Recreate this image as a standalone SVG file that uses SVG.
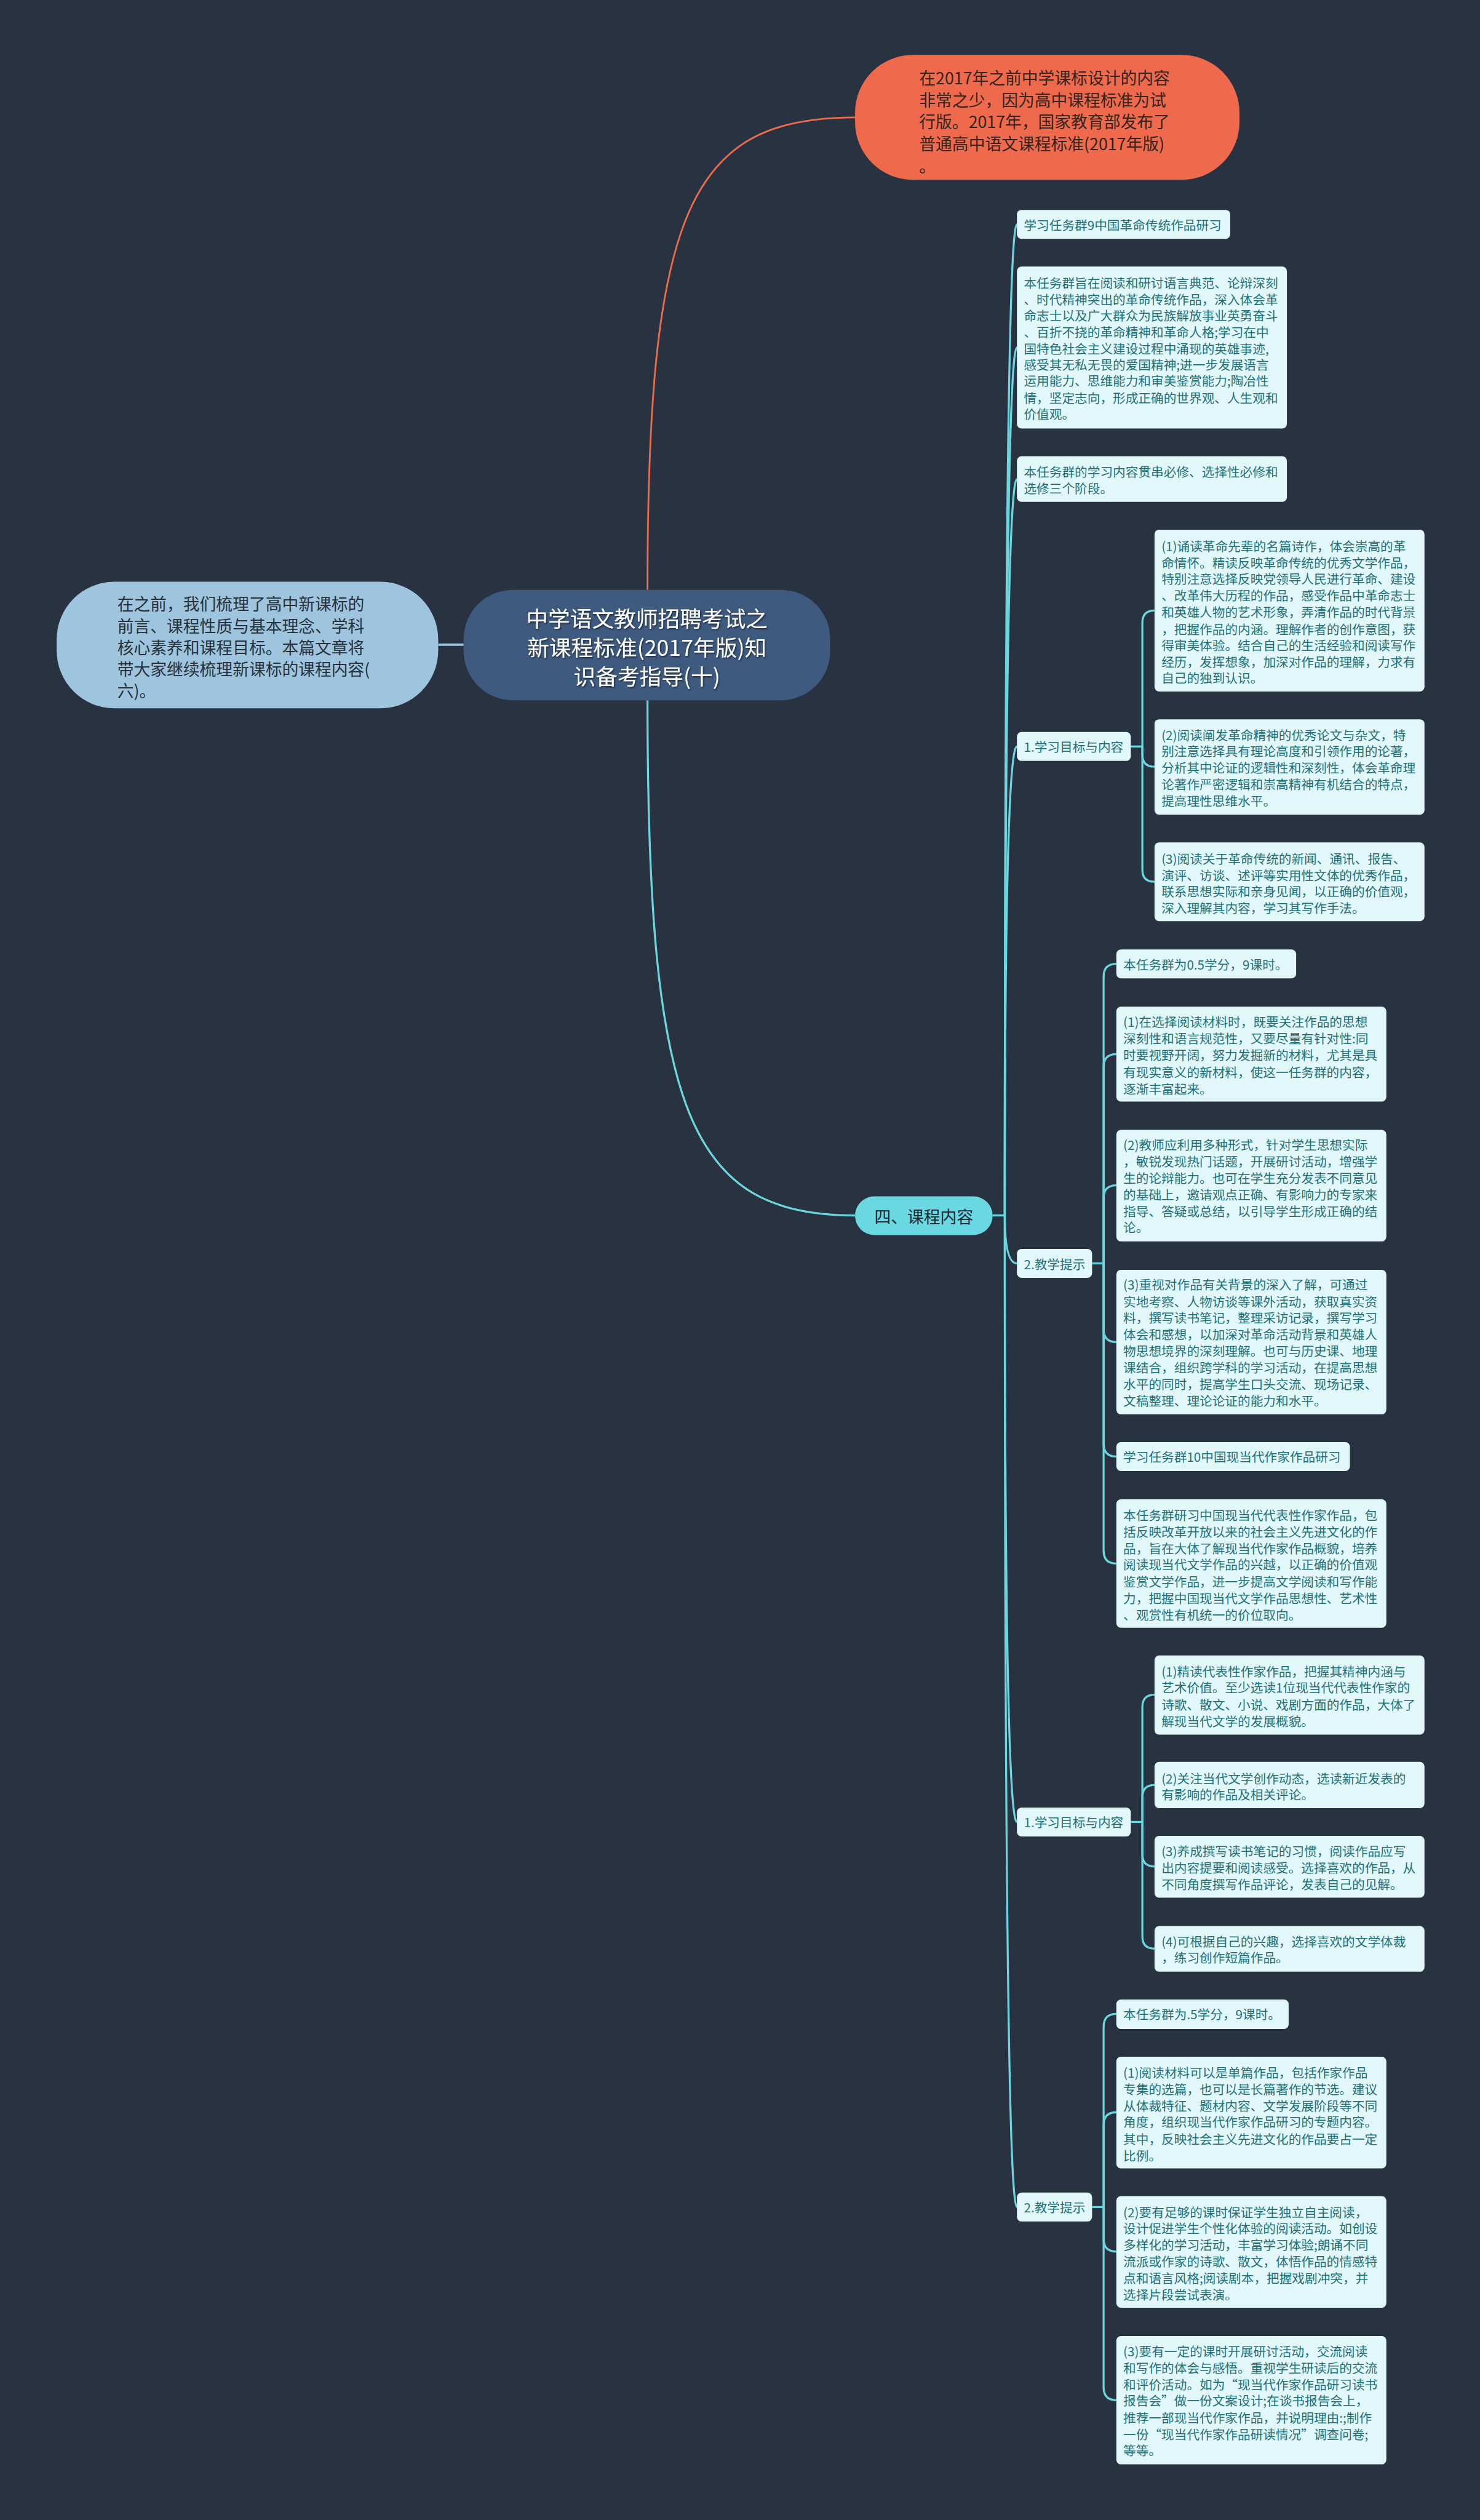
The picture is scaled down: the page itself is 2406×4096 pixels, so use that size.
<svg xmlns="http://www.w3.org/2000/svg" width="2406" height="4096" viewBox="0 0 2406 4096">
<style>
text{font-family:"Noto Sans CJK SC","Noto Sans",sans-serif;dominant-baseline:central}
.leaf{fill:#e1f7f9}
.lt{font-size:22px;fill:#1f7177}
.c{fill:none;stroke:#6cd6df;stroke-width:3.5}
</style>
<defs>
<filter id="sh" x="-10%" y="-10%" width="120%" height="130%"><feDropShadow dx="1.5" dy="2" stdDeviation="1" flood-color="#1a2230" flood-opacity="0.8"/></filter>
</defs>
<rect width="2406" height="4096" fill="#293240"/>
<g transform="scale(0.93984)">
<g id="connectors">
<path d="M1120 1020 C1120 366 1192 203 1479 203" fill="none" stroke="#ec6c4d" stroke-width="3"/>
<path d="M758 1115 H802" fill="none" stroke="#9ec6de" stroke-width="4"/>
<path class="c" d="M1120 1211 C1120 1924 1192 2102 1479 2102"/>
<path class="c" d="M1717 2102 H1738"/>
<path class="c" d="M1738 2102 Q1738 388 1759 388"/>
<path class="c" d="M1738 2102 Q1738 601 1759 601"/>
<path class="c" d="M1738 2102 Q1738 829 1759 829"/>
<path class="c" d="M1738 2102 Q1738 1291 1759 1291"/>
<path class="c" d="M1738 2102 Q1738 2185 1759 2185"/>
<path class="c" d="M1738 2102 Q1738 3151 1759 3151"/>
<path class="c" d="M1738 2102 Q1738 3817 1759 3817"/>
<path class="c" d="M1956 1291 H1976"/>
<path class="c" d="M1976 1291 V1077 Q1976 1056 1997 1056"/>
<path class="c" d="M1976 1291 V1305 Q1976 1326 1997 1326"/>
<path class="c" d="M1976 1291 V1504 Q1976 1525 1997 1525"/>
<path class="c" d="M1889 2185 H1909"/>
<path class="c" d="M1909 2185 V1689 Q1909 1667 1931 1667"/>
<path class="c" d="M1909 2185 V1845 Q1909 1823 1931 1823"/>
<path class="c" d="M1909 2185 V2072 Q1909 2050 1931 2050"/>
<path class="c" d="M1909 2185 V2299 Q1909 2321 1931 2321"/>
<path class="c" d="M1909 2185 V2497 Q1909 2519 1931 2519"/>
<path class="c" d="M1909 2185 V2682 Q1909 2704 1931 2704"/>
<path class="c" d="M1956 3151 H1976"/>
<path class="c" d="M1976 3151 V2952 Q1976 2931 1997 2931"/>
<path class="c" d="M1976 3151 V3108 Q1976 3087 1997 3087"/>
<path class="c" d="M1976 3151 V3207 Q1976 3228 1997 3228"/>
<path class="c" d="M1976 3151 V3349 Q1976 3370 1997 3370"/>
<path class="c" d="M1889 3817 H1909"/>
<path class="c" d="M1909 3817 V3505 Q1909 3483 1931 3483"/>
<path class="c" d="M1909 3817 V3675 Q1909 3653 1931 3653"/>
<path class="c" d="M1909 3817 V3872 Q1909 3894 1931 3894"/>
<path class="c" d="M1909 3817 V4129 Q1909 4151 1931 4151"/>
</g>

<g id="n-top">
<rect x="1479" y="95" width="665" height="216" rx="100" fill="#ef6a4c"/>
<text font-size="28.5" fill="#33241c"><tspan x="1590" y="133">在2017年之前中学课标设计的内容</tspan><tspan x="1590" y="171">非常之少，因为高中课程标准为试</tspan><tspan x="1590" y="209">行版。2017年，国家教育部发布了</tspan><tspan x="1590" y="247">普通高中语文课程标准(2017年版)</tspan><tspan x="1590" y="285">。</tspan></text>
</g>

<g id="n-left">
<rect x="98" y="1006" width="660" height="219" rx="100" fill="#9ec5dd"/>
<text font-size="28.5" fill="#27313b"><tspan x="203" y="1043">在之前，我们梳理了高中新课标的</tspan><tspan x="203" y="1081">前言、课程性质与基本理念、学科</tspan><tspan x="203" y="1118">核心素养和课程目标。本篇文章将</tspan><tspan x="203" y="1156">带大家继续梳理新课标的课程内容(</tspan><tspan x="203" y="1193">六)。</tspan></text>
</g>

<g id="n-root">
<rect x="802" y="1020" width="634" height="191" rx="85" fill="#3e5a7f"/>
<text font-size="38" fill="#ffffff" text-anchor="middle" filter="url(#sh)"><tspan x="1119" y="1067">中学语文教师招聘考试之</tspan><tspan x="1119" y="1117">新课程标准(2017年版)知</tspan><tspan x="1119" y="1167">识备考指导(十)</tspan></text>
</g>

<g id="n-course">
<rect x="1479" y="2069" width="238" height="67" rx="33.5" fill="#6ad8e1"/>
<text x="1598" y="2103" font-size="28.5" fill="#1c2630" text-anchor="middle">四、课程内容</text>
</g>

<g id="n-a">
<rect class="leaf" x="1759" y="363" width="369" height="50" rx="8"/>
<text class="lt" x="1771" y="388">学习任务群9中国革命传统作品研习</text>
</g>

<g id="n-b">
<rect class="leaf" x="1759" y="461" width="467" height="280" rx="8"/>
<text class="lt"><tspan x="1771" y="488">本任务群旨在阅读和研讨语言典范、论辩深刻</tspan><tspan x="1771" y="517">、时代精神突出的革命传统作品，深入体会革</tspan><tspan x="1771" y="545">命志士以及广大群众为民族解放事业英勇奋斗</tspan><tspan x="1771" y="573">、百折不挠的革命精神和革命人格;学习在中</tspan><tspan x="1771" y="602">国特色社会主义建设过程中涌现的英雄事迹,</tspan><tspan x="1771" y="630">感受其无私无畏的爱国精神;进一步发展语言</tspan><tspan x="1771" y="658">运用能力、思维能力和审美鉴赏能力;陶冶性</tspan><tspan x="1771" y="687">情，坚定志向，形成正确的世界观、人生观和</tspan><tspan x="1771" y="715">价值观。</tspan></text>
</g>

<g id="n-c">
<rect class="leaf" x="1759" y="789" width="467" height="79" rx="8"/>
<text class="lt"><tspan x="1771" y="815">本任务群的学习内容贯串必修、选择性必修和</tspan><tspan x="1771" y="844">选修三个阶段。</tspan></text>
</g>

<g id="n-d">
<rect class="leaf" x="1759" y="1266" width="197" height="50" rx="8"/>
<text class="lt" x="1771" y="1291">1.学习目标与内容</text>
</g>

<g id="n-d1">
<rect class="leaf" x="1997" y="916" width="467" height="280" rx="8"/>
<text class="lt"><tspan x="2009" y="944">(1)诵读革命先辈的名篇诗作，体会崇高的革</tspan><tspan x="2009" y="972">命情怀。精读反映革命传统的优秀文学作品，</tspan><tspan x="2009" y="1000">特别注意选择反映党领导人民进行革命、建设</tspan><tspan x="2009" y="1029">、改革伟大历程的作品，感受作品中革命志士</tspan><tspan x="2009" y="1058">和英雄人物的艺术形象，弄清作品的时代背景</tspan><tspan x="2009" y="1087">，把握作品的内涵。理解作者的创作意图，获</tspan><tspan x="2009" y="1115">得审美体验。结合自己的生活经验和阅读写作</tspan><tspan x="2009" y="1144">经历，发挥想象，加深对作品的理解，力求有</tspan><tspan x="2009" y="1172">自己的独到认识。</tspan></text>
</g>

<g id="n-d2">
<rect class="leaf" x="1997" y="1244" width="467" height="165" rx="8"/>
<text class="lt"><tspan x="2009" y="1270">(2)阅读阐发革命精神的优秀论文与杂文，特</tspan><tspan x="2009" y="1298">别注意选择具有理论高度和引领作用的论著，</tspan><tspan x="2009" y="1327">分析其中论证的逻辑性和深刻性，体会革命理</tspan><tspan x="2009" y="1356">论著作严密逻辑和崇高精神有机结合的特点，</tspan><tspan x="2009" y="1384">提高理性思维水平。</tspan></text>
</g>

<g id="n-d3">
<rect class="leaf" x="1997" y="1457" width="467" height="136" rx="8"/>
<text class="lt"><tspan x="2009" y="1484">(3)阅读关于革命传统的新闻、通讯、报告、</tspan><tspan x="2009" y="1513">演评、访谈、述评等实用性文体的优秀作品，</tspan><tspan x="2009" y="1541">联系思想实际和亲身见闻，以正确的价值观，</tspan><tspan x="2009" y="1569">深入理解其内容，学习其写作手法。</tspan></text>
</g>

<g id="n-e">
<rect class="leaf" x="1759" y="2160" width="130" height="50" rx="8"/>
<text class="lt" x="1771" y="2185">2.教学提示</text>
</g>

<g id="n-e1">
<rect class="leaf" x="1931" y="1642" width="311" height="50" rx="8"/>
<text class="lt" x="1943" y="1667">本任务群为0.5学分，9课时。</text>
</g>

<g id="n-e2">
<rect class="leaf" x="1931" y="1741" width="467" height="164" rx="8"/>
<text class="lt"><tspan x="1943" y="1766">(1)在选择阅读材料时，既要关注作品的思想</tspan><tspan x="1943" y="1795">深刻性和语言规范性，又要尽量有针对性:同</tspan><tspan x="1943" y="1824">时要视野开阔，努力发掘新的材料，尤其是具</tspan><tspan x="1943" y="1853">有现实意义的新材料，使这一任务群的内容，</tspan><tspan x="1943" y="1882">逐渐丰富起来。</tspan></text>
</g>

<g id="n-e3">
<rect class="leaf" x="1931" y="1954" width="467" height="193" rx="8"/>
<text class="lt"><tspan x="1943" y="1979">(2)教师应利用多种形式，针对学生思想实际</tspan><tspan x="1943" y="2008">，敏锐发现热门话题，开展研讨活动，增强学</tspan><tspan x="1943" y="2037">生的论辩能力。也可在学生充分发表不同意见</tspan><tspan x="1943" y="2065">的基础上，邀请观点正确、有影响力的专家来</tspan><tspan x="1943" y="2094">指导、答疑或总结，以引导学生形成正确的结</tspan><tspan x="1943" y="2122">论。</tspan></text>
</g>

<g id="n-e4">
<rect class="leaf" x="1931" y="2196" width="467" height="250" rx="8"/>
<text class="lt"><tspan x="1943" y="2221">(3)重视对作品有关背景的深入了解，可通过</tspan><tspan x="1943" y="2250">实地考察、人物访谈等课外活动，获取真实资</tspan><tspan x="1943" y="2278">料，撰写读书笔记，整理采访记录，撰写学习</tspan><tspan x="1943" y="2307">体会和感想，以加深对革命活动背景和英雄人</tspan><tspan x="1943" y="2336">物思想境界的深刻理解。也可与历史课、地理</tspan><tspan x="1943" y="2364">课结合，组织跨学科的学习活动，在提高思想</tspan><tspan x="1943" y="2393">水平的同时，提高学生口头交流、现场记录、</tspan><tspan x="1943" y="2422">文稿整理、理论论证的能力和水平。</tspan></text>
</g>

<g id="n-f">
<rect class="leaf" x="1931" y="2494" width="404" height="50" rx="8"/>
<text class="lt" x="1943" y="2519">学习任务群10中国现当代作家作品研习</text>
</g>

<g id="n-g">
<rect class="leaf" x="1931" y="2593" width="467" height="222" rx="8"/>
<text class="lt"><tspan x="1943" y="2620">本任务群研习中国现当代代表性作家作品，包</tspan><tspan x="1943" y="2648">括反映改革开放以来的社会主义先进文化的作</tspan><tspan x="1943" y="2677">品，旨在大体了解现当代作家作品概貌，培养</tspan><tspan x="1943" y="2705">阅读现当代文学作品的兴越，以正确的价值观</tspan><tspan x="1943" y="2734">鉴赏文学作品，进一步提高文学阅读和写作能</tspan><tspan x="1943" y="2763">力，把握中国现当代文学作品思想性、艺术性</tspan><tspan x="1943" y="2792">、观赏性有机统一的价位取向。</tspan></text>
</g>

<g id="n-h">
<rect class="leaf" x="1759" y="3126" width="197" height="50" rx="8"/>
<text class="lt" x="1771" y="3151">1.学习目标与内容</text>
</g>

<g id="n-h1">
<rect class="leaf" x="1997" y="2863" width="467" height="137" rx="8"/>
<text class="lt"><tspan x="2009" y="2890">(1)精读代表性作家作品，把握其精神内涵与</tspan><tspan x="2009" y="2918">艺术价值。至少选读1位现当代代表性作家的</tspan><tspan x="2009" y="2947">诗歌、散文、小说、戏剧方面的作品，大体了</tspan><tspan x="2009" y="2976">解现当代文学的发展概貌。</tspan></text>
</g>

<g id="n-h2">
<rect class="leaf" x="1997" y="3047" width="467" height="80" rx="8"/>
<text class="lt"><tspan x="2009" y="3075">(2)关注当代文学创作动态，选读新近发表的</tspan><tspan x="2009" y="3103">有影响的作品及相关评论。</tspan></text>
</g>

<g id="n-h3">
<rect class="leaf" x="1997" y="3175" width="467" height="107" rx="8"/>
<text class="lt"><tspan x="2009" y="3201">(3)养成撰写读书笔记的习惯，阅读作品应写</tspan><tspan x="2009" y="3229">出内容提要和阅读感受。选择喜欢的作品，从</tspan><tspan x="2009" y="3258">不同角度撰写作品评论，发表自己的见解。</tspan></text>
</g>

<g id="n-h4">
<rect class="leaf" x="1997" y="3331" width="467" height="79" rx="8"/>
<text class="lt"><tspan x="2009" y="3357">(4)可根据自己的兴趣，选择喜欢的文学体裁</tspan><tspan x="2009" y="3385">，练习创作短篇作品。</tspan></text>
</g>

<g id="n-i">
<rect class="leaf" x="1759" y="3792" width="130" height="50" rx="8"/>
<text class="lt" x="1771" y="3817">2.教学提示</text>
</g>

<g id="n-i1">
<rect class="leaf" x="1931" y="3458" width="298" height="51" rx="8"/>
<text class="lt" x="1943" y="3483">本任务群为.5学分，9课时。</text>
</g>

<g id="n-i2">
<rect class="leaf" x="1931" y="3557" width="467" height="193" rx="8"/>
<text class="lt"><tspan x="1943" y="3584">(1)阅读材料可以是单篇作品，包括作家作品</tspan><tspan x="1943" y="3612">专集的选篇，也可以是长篇著作的节选。建议</tspan><tspan x="1943" y="3641">从体裁特征、题材内容、文学发展阶段等不同</tspan><tspan x="1943" y="3669">角度，组织现当代作家作品研习的专题内容。</tspan><tspan x="1943" y="3698">其中，反映社会主义先进文化的作品要占一定</tspan><tspan x="1943" y="3727">比例。</tspan></text>
</g>

<g id="n-i3">
<rect class="leaf" x="1931" y="3798" width="467" height="193" rx="8"/>
<text class="lt"><tspan x="1943" y="3825">(2)要有足够的课时保证学生独立自主阅读，</tspan><tspan x="1943" y="3853">设计促进学生个性化体验的阅读活动。如创设</tspan><tspan x="1943" y="3882">多样化的学习活动，丰富学习体验;朗诵不同</tspan><tspan x="1943" y="3910">流派或作家的诗歌、散文，体悟作品的情感特</tspan><tspan x="1943" y="3939">点和语言风格;阅读剧本，把握戏剧冲突，并</tspan><tspan x="1943" y="3968">选择片段尝试表演。</tspan></text>
</g>

<g id="n-i4">
<rect class="leaf" x="1931" y="4040" width="467" height="222" rx="8"/>
<text class="lt"><tspan x="1943" y="4066">(3)要有一定的课时开展研讨活动，交流阅读</tspan><tspan x="1943" y="4094">和写作的体会与感悟。重视学生研读后的交流</tspan><tspan x="1943" y="4123">和评价活动。如为“现当代作家作品研习读书</tspan><tspan x="1943" y="4151">报告会”做一份文案设计;在谈书报告会上，</tspan><tspan x="1943" y="4180">推荐一部现当代作家作品，并说明理由:;制作</tspan><tspan x="1943" y="4209">一份“现当代作家作品研读情况”调查问卷;</tspan><tspan x="1943" y="4237">等等。</tspan></text>
</g>
</g>
</svg>
